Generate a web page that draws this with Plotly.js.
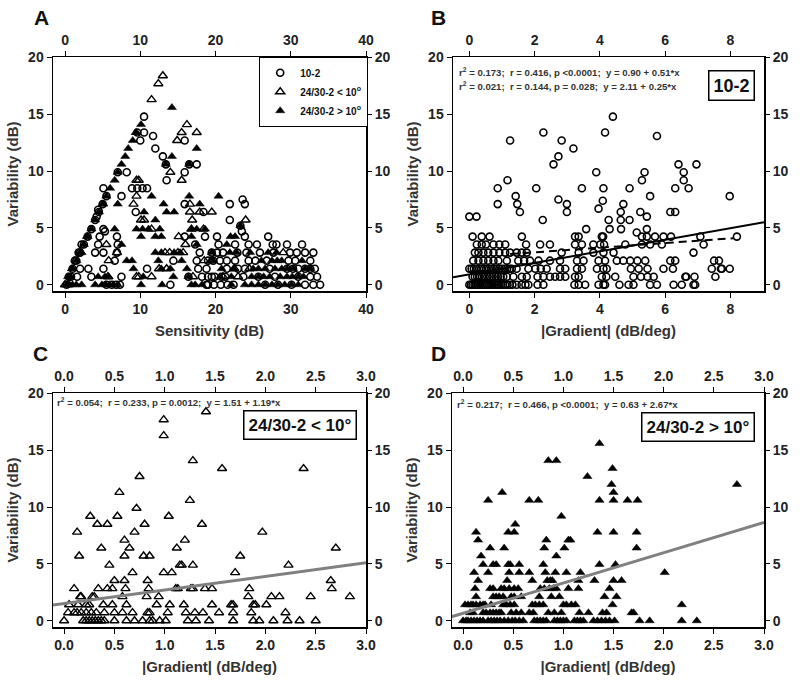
<!DOCTYPE html>
<html>
<head>
<meta charset="utf-8">
<script src="https://cdn.plot.ly/plotly-3.0.1.min.js"></script>
<style>html,body{margin:0;padding:0;background:#fff}#chart{width:800px;height:687px}</style>
</head>
<body>
<div id="chart"></div>
<script>
// variability steps (dB) of the dense bottom rows, one row of x values per step
var levels = [0, 0.71, 1.41, 2.12, 2.83, 3.54, 4.24];

// A: sensitivity (dB) vs variability (dB)
var aCircRows = [
  [0.2, 5.5, 6.2, 6.8, 7.3, 14.0, 18.8, 19.0, 19.8, 20.7, 21.6, 22.4, 26.6, 28.3, 30.1, 31.9, 33.0, 33.9],
  [0.5, 0.8, 1.6, 3.5, 7.5, 16.4, 18.2, 19.0, 19.5, 19.9, 20.8, 21.3, 23.7, 25.7, 27.9, 31.0, 32.6, 33.5],
  [1.0, 2.0, 3.1, 5.1, 10.9, 17.7, 18.8, 21.5, 23.0, 23.9, 27.2, 29.5, 30.3, 31.0, 31.9, 32.6, 33.2],
  [1.3, 1.5, 6.6, 14.4, 17.5, 19.0, 19.7, 20.6, 21.5, 22.6, 24.4, 25.3, 26.8, 29.7, 30.6, 32.6],
  [1.8, 2.0, 4.0, 5.1, 6.9, 17.9, 19.5, 20.2, 21.0, 22.9, 24.1, 25.9, 27.7, 29.9, 30.8, 31.9, 33.0],
  [2.2, 2.5, 4.4, 7.0, 17.3, 20.4, 22.6, 24.4, 25.5, 27.6, 28.1, 29.5, 31.5],
  [3.0, 4.6, 6.9, 15.9, 18.6, 20.2, 23.9, 27.0]
];
var aCircUpper = [[3.5,4.9],[5.1,4.9],[5.3,4.7],[4.0,5.7],[4.2,6.0],[4.4,6.6],[4.5,6.4],[5.0,7.1],[5.5,7.8],[5.1,8.5],
  [7.0,9.9],[7.5,7.8],[8.9,8.5],[9.6,8.5],[10.3,8.5],[10.9,8.5],[9.4,6.4],[8.2,9.9],[9.6,13.4],[10.0,12.7],[10.5,13.4],
  [10.5,14.8],[11.7,13.1],[12.0,12.0],[13.0,11.3],[13.4,10.6],[13.5,9.2],[15.9,9.9],[15.9,12.7],[16.5,10.6],[17.5,10.6],
  [15.9,7.1],[18.4,6.4],[21.9,7.1],[23.6,7.5],[23.9,7.1],[21.9,5.7],[23.3,5.2],[23.5,4.7]];

var aOpenRows = [
  [0.0, 0.4],
  [5.7, 9.5, 9.8, 11.5, 17.0, 21.0, 23.0],
  [12.5, 13.5, 22.5, 24.5],
  [5.8, 18.5],
  [6.9, 13.3, 13.9, 15.0, 15.7, 29.0],
  [5.5, 16.0],
  [15.1]
];
var aOpenUpper = [[10.5,5.7],[10.1,5.7],[11.5,4.9],[16.8,4.9],[18.4,4.9],[16.9,5.7],[24.0,5.7],[16.6,6.4],[19.5,6.4],
  [17.9,6.4],[16.6,7.1],[9.1,7.1],[9.5,7.8],[9.5,9.2],[15.5,9.2],[14.0,9.9],[14.9,12.7],[15.5,13.4],[17.5,13.4],
  [16.2,14.1],[11.5,16.3],[12.4,17.7],[13.0,18.4],[9.8,9.2]];

var aFillRows = [
  [0.2, 0.6, 1.0, 1.5, 2.2, 4.0, 4.9, 5.4, 5.9, 6.4, 7.0, 10.1, 12.9, 16.8, 17.3, 18.2, 22.1, 23.9, 24.8, 25.7, 26.6, 27.5, 28.3, 29.2, 30.1, 31.0],
  [0.4, 0.7, 4.4, 5.3, 5.8, 10.4, 14.4, 16.4, 20.6, 22.1, 24.8, 25.7, 26.4, 27.2, 28.6, 29.5, 30.2, 31.0, 31.7],
  [0.9, 1.0, 9.1, 12.8, 14.0, 16.2, 20.8, 22.4, 25.0, 25.7, 26.6, 27.9, 28.8, 29.5, 30.3, 31.9, 32.6],
  [1.5, 8.2, 8.9, 12.4, 15.5, 19.3, 19.7, 26.1, 27.5, 28.2, 28.8, 31.5],
  [2.0, 2.2, 12.0, 12.8, 14.5, 15.3, 19.5, 21.9, 22.8, 24.6, 27.0, 28.1],
  [2.5, 7.5, 17.5, 21.5],
  [2.9, 3.0, 10.1, 12.0, 12.8, 16.8, 22.0, 22.6]
];
var aFillUpper = [[3.5,4.9],[6.6,4.9],[9.5,4.9],[10.3,4.9],[11.1,4.9],[12.6,4.9],[16.8,4.9],[17.5,4.9],[18.6,4.9],
  [23.3,5.2],[12.0,5.7],[4.0,5.7],[4.5,6.4],[10.5,6.4],[13.5,6.4],[14.5,6.4],[5.0,7.1],[5.1,7.1],[7.0,7.1],[13.1,7.1],
  [17.9,7.1],[5.5,7.8],[11.5,7.8],[16.5,7.8],[20.4,7.8],[6.0,8.5],[6.6,9.2],[7.0,9.9],[7.5,10.6],[8.0,11.3],[8.4,12.0],
  [9.0,12.7],[9.4,13.4],[9.5,13.4],[10.1,14.1],[14.2,15.6],[14.2,11.3],[13.4,10.6],[16.5,10.6],[17.5,12.0]];

// B: 10-2, |gradient| vs variability
var bRows = [
  [0.0, 0.05, 0.1, 0.16, 0.21, 0.27, 0.33, 0.38, 0.44, 0.5, 0.55, 0.61, 0.67, 0.72, 0.78, 0.85, 0.9, 0.97, 1.03, 1.1, 1.17, 1.24, 1.32, 1.45, 1.6, 1.72, 1.81, 2.09, 2.27, 3.22, 3.35, 3.55, 3.96, 4.11, 4.16, 4.6, 4.88, 5.03, 5.54, 5.75, 6.26, 6.51, 6.87, 6.92],
  [0.1, 0.17, 0.24, 0.31, 0.39, 0.47, 0.55, 0.63, 0.71, 0.8, 0.88, 0.96, 1.04, 1.15, 1.35, 1.61, 1.76, 2.09, 2.27, 2.47, 2.63, 2.78, 2.94, 3.24, 3.35, 4.06, 4.2, 4.47, 5.03, 5.26, 5.46, 5.65, 6.62, 6.65, 6.9, 7.54],
  [0.0, 0.07, 0.14, 0.22, 0.3, 0.37, 0.45, 0.52, 0.6, 0.68, 0.76, 0.84, 0.92, 1.0, 1.08, 1.16, 1.24, 1.3, 1.45, 1.81, 2.02, 2.19, 2.37, 2.78, 2.94, 3.3, 3.45, 3.91, 4.11, 4.21, 4.95, 5.19, 5.46, 5.95, 6.24, 7.43, 7.71, 7.74, 7.98],
  [0.12, 0.28, 0.43, 0.58, 0.74, 0.89, 1.15, 1.5, 1.68, 1.86, 2.12, 2.47, 2.78, 3.3, 3.5, 3.96, 4.16, 4.52, 4.72, 4.93, 5.15, 5.39, 6.16, 6.31, 7.5, 7.65],
  [0.17, 0.28, 0.43, 0.58, 0.74, 0.92, 1.1, 1.25, 1.45, 1.61, 1.76, 2.83, 3.35, 3.8, 4.11, 4.42, 6.87],
  [0.23, 0.38, 0.51, 0.74, 0.92, 1.1, 1.74, 2.17, 2.47, 3.24, 3.45, 3.8, 4.01, 4.13, 4.78, 5.29, 5.54, 5.9, 7.18],
  [0.1, 0.38, 0.62, 1.61, 3.24, 3.35, 4.06, 4.1, 5.29, 5.44, 5.69, 5.95, 6.18, 7.08, 8.2]
];
var bUpper = [[0,6.0],[0.22,6.0],[0.87,8.5],[1.17,9.2],[0.87,7.1],[1.25,12.7],[1.42,7.8],[1.47,7.1],[1.55,6.4],[2.05,8.5],
  [2.25,5.7],[2.27,13.4],[2.83,12.7],[2.73,11.3],[2.58,10.6],[3.19,12.0],[2.73,7.5],[2.99,7.1],[2.99,6.4],[3.45,8.5],
  [3.58,4.9],[3.89,9.9],[3.96,6.7],[4.09,7.4],[4.11,8.5],[4.16,13.4],[4.4,14.8],[4.27,5.7],[4.3,4.9],[4.65,4.9],
  [4.72,7.1],[4.64,6.4],[4.64,5.7],[4.91,8.5],[4.91,5.7],[5.29,9.2],[5.37,9.9],[5.24,6.4],[5.44,6.0],[5.54,7.8],
  [5.44,4.9],[5.13,4.6],[5.75,13.1],[6.16,6.4],[6.31,6.4],[6.31,8.5],[6.41,10.6],[6.57,9.9],[6.57,9.2],[6.72,8.5],
  [6.96,10.6],[7.98,7.8]];
var bFitAllX = [-0.5, 9.03], bFitAllY = [0.65, 5.5];
var bFitX = [1.25, 8.1], bFitY = [2.7, 4.1];

// C: 24/30-2 < 10 deg
var cRows = [
  [0.0, 0.19, 0.22, 0.25, 0.28, 0.31, 0.34, 0.37, 0.4, 0.5, 0.62, 0.7, 0.78, 0.85, 0.88, 0.95, 1.01, 1.23, 1.31, 1.44, 1.68, 1.88, 1.94, 2.08, 2.22, 2.34, 2.5],
  [0.04, 0.1, 0.13, 0.17, 0.22, 0.27, 0.32, 0.4, 0.5, 0.58, 0.68, 0.83, 0.85, 1.03, 1.21, 1.3, 1.38, 1.54, 1.68, 1.86, 2.2],
  [0.05, 0.14, 0.22, 0.25, 0.39, 0.48, 0.62, 0.92, 1.05, 1.19, 1.47, 1.66, 1.68, 1.88, 1.9, 2.01],
  [0.16, 0.17, 0.28, 0.3, 0.58, 0.82, 0.94, 1.83, 2.06, 2.14, 2.45, 2.84],
  [0.1, 0.34, 0.43, 0.48, 0.61, 0.84, 1.11, 1.13, 1.26, 1.28, 1.4, 1.47, 1.84, 2.66],
  [0.5, 0.6, 0.83, 2.65],
  [0.68, 0.99, 1.07, 1.7]
];
var cUpper = [[1.41,18.4],[0.99,17.7],[0.99,16.3],[1.28,14.1],[1.57,13.4],[2.38,13.4],[0.75,12.7],[0.55,11.3],[1.25,10.6],
  [0.26,9.2],[0.53,9.2],[0.72,9.9],[1.04,9.2],[0.33,8.5],[0.43,8.5],[0.8,8.5],[1.37,8.5],[0.13,7.8],[0.7,7.8],[1.97,7.8],
  [0.6,7.1],[1.2,7.1],[0.37,6.4],[0.65,6.4],[1.12,6.4],[2.7,6.4],[0.15,5.7],[0.6,5.7],[0.79,5.7],[0.85,5.7],[1.75,5.7],
  [0.45,4.9],[1.15,4.9],[1.17,4.9],[1.28,4.9],[2.23,4.9]];
var cFitX = [-0.11, 3.0], cFitY = [1.38, 5.1];

// D: 24/30-2 > 10 deg
var dRows = [
  [0, 0.03, 0.05, 0.08, 0.11, 0.14, 0.17, 0.2, 0.25, 0.28, 0.31, 0.34, 0.37, 0.41, 0.45, 0.49, 0.52, 0.56, 0.6, 0.71, 0.74, 0.77, 0.8, 0.83, 0.91, 0.94, 0.97, 1.0, 1.03, 1.11, 1.14, 1.17, 1.2, 1.3, 1.34, 1.38, 1.42, 1.46, 1.51, 1.76, 1.86, 2.18, 2.33],
  [0.07, 0.1, 0.2, 0.23, 0.27, 0.3, 0.33, 0.36, 0.38, 0.48, 0.53, 0.58, 0.66, 0.7, 0.85, 0.91, 0.98, 1.16, 1.25, 1.39, 1.43, 1.68, 1.7],
  [0.02, 0.05, 0.08, 0.1, 0.13, 0.17, 0.2, 0.22, 0.28, 0.4, 0.43, 0.47, 0.51, 0.69, 0.72, 0.76, 0.8, 1.0, 1.03, 1.08, 1.12, 1.49, 2.18],
  [0.13, 0.3, 0.33, 0.36, 0.4, 0.48, 0.51, 0.58, 0.76, 0.88, 0.96, 1.41, 1.53],
  [0.12, 0.27, 0.3, 0.38, 0.41, 0.46, 0.51, 0.55, 0.77, 0.81, 0.86, 0.9, 0.93, 1.05, 1.15, 1.46],
  [0.15, 0.44, 0.69, 0.84, 0.87, 0.89, 1.15, 1.31, 1.5, 1.58],
  [0.11, 0.25, 0.46, 0.56, 0.66, 0.82, 0.92, 1.03, 1.17, 2.01]
];
var dUpper = [[0.2,4.95],[0.3,4.95],[0.33,4.95],[0.45,4.95],[0.47,4.95],[0.56,4.95],[0.8,4.95],[1.36,4.95],[1.52,4.95],
  [1.36,15.6],[0.85,14.1],[0.93,14.1],[1.49,13.4],[1.24,12.7],[1.48,12.0],[2.73,12.0],[1.5,11.3],[0.39,11.3],[0.25,10.6],
  [0.66,10.6],[0.75,10.6],[1.36,10.6],[1.5,10.6],[1.64,10.6],[1.74,10.6],[0.98,9.2],[0.52,8.5],[0.13,7.8],[0.45,7.8],
  [0.51,7.8],[1.34,7.8],[1.5,7.8],[1.73,7.8],[0.15,7.1],[0.83,7.1],[1.05,7.1],[1.07,7.1],[0.27,6.4],[0.41,6.4],
  [0.81,6.4],[1.01,6.4],[1.73,6.4],[0.18,5.7],[0.93,5.7]];
var dFitX = [-0.115, 3.0], dFitY = [0.35, 8.65];

// rows + upper pairs -> x/y lists
function pts(rows, upper) {
  var x = [], y = [];
  rows.forEach(function (r, i) { r.forEach(function (v) { x.push(v); y.push(levels[i]); }); });
  upper.forEach(function (p) { x.push(p[0]); y.push(p[1]); });
  return {x: x, y: y};
}

var F = '"Liberation Sans", Arial, sans-serif';
var W = 800, H = 687;
function px(v) { return v / W; }
function py(v) { return 1 - v / H; }

var circ = {symbol: 'circle-open', size: 7, color: '#000', line: {width: 1.6, color: '#000'}};
var tOpen = {symbol: 'triangle-up-open', size: 8, color: '#000', line: {width: 1.4, color: '#000'}};
var tFill = {symbol: 'triangle-up', size: 8, color: '#000', line: {width: 0.5, color: '#000'}};

function scat(p, marker, xa, ya, name, leg) {
  return {x: p.x, y: p.y, type: 'scatter', mode: 'markers', marker: marker, xaxis: xa, yaxis: ya,
    name: name, showlegend: !!leg, hoverinfo: 'skip'};
}
function line(x, y, xa, ya, color, width, dash) {
  return {x: x, y: y, type: 'scatter', mode: 'lines', line: {color: color, width: width, dash: dash || 'solid'},
    xaxis: xa, yaxis: ya, showlegend: false, hoverinfo: 'skip'};
}
// empty trace so the top / right tick axes get drawn
function holder(xa, ya) {
  return {x: [], y: [], type: 'scatter', mode: 'markers', xaxis: xa, yaxis: ya, showlegend: false, hoverinfo: 'skip'};
}

var aC = pts(aCircRows, aCircUpper), aO = pts(aOpenRows, aOpenUpper), aF = pts(aFillRows, aFillUpper);
var data = [
  scat(aC, circ, 'x', 'y', '10-2', true),
  scat(aO, tOpen, 'x', 'y', '24/30-2 < 10<sup>o</sup>', true),
  scat(aF, tFill, 'x', 'y', '24/30-2 > 10<sup>o</sup>', true),
  scat(pts(bRows, bUpper), circ, 'x2', 'y2'),
  line(bFitAllX, bFitAllY, 'x2', 'y2', '#000', 2),
  line(bFitX, bFitY, 'x2', 'y2', '#000', 2, '8px,5px'),
  scat(pts(cRows, cUpper), tOpen, 'x3', 'y3'),
  line(cFitX, cFitY, 'x3', 'y3', '#808080', 3),
  scat(pts(dRows, dUpper), tFill, 'x4', 'y4'),
  line(dFitX, dFitY, 'x4', 'y4', '#808080', 3),
  holder('x5', 'y'), holder('x', 'y5'),
  holder('x6', 'y2'), holder('x2', 'y6'),
  holder('x7', 'y3'), holder('x3', 'y7'),
  holder('x8', 'y4'), holder('x4', 'y8')
];

var tickFont = {family: F, size: 14, color: '#222', weight: 'bold'};
var titleFont = {family: F, size: 15, color: '#333', weight: 'bold'};
var yRange = [-0.55, 20.05], yTicks = [0, 5, 10, 15, 20];

function xAxis(x0, x1, anchor, range, ticks, fmt) {
  return {domain: [px(x0), px(x1)], anchor: anchor, range: range, tickvals: ticks, tickformat: fmt,
    ticks: 'outside', ticklen: 5, tickcolor: '#000', showline: true, linecolor: '#000', linewidth: 1.5,
    mirror: true, showgrid: false, zeroline: false, tickfont: tickFont, fixedrange: true,
    title: {text: anchor === 'y' ? 'Sensitivity (dB)' : '|Gradient| (dB/deg)', font: titleFont, standoff: 9}};
}
function yAxis(y0, y1, anchor) {
  return {domain: [py(y1), py(y0)], anchor: anchor, range: yRange, tickvals: yTicks,
    ticks: 'outside', ticklen: 5, tickcolor: '#000', showline: true, linecolor: '#000', linewidth: 1.5,
    mirror: true, showgrid: false, zeroline: false, tickfont: tickFont, fixedrange: true,
    title: {text: 'Variability (dB)', font: titleFont, standoff: 6}};
}
function topAxis(over, anchor, range, ticks, fmt) {
  return {overlaying: over, side: 'top', anchor: anchor, range: range, tickvals: ticks, tickformat: fmt,
    ticks: 'outside', ticklen: 5, tickcolor: '#000', showline: false, showgrid: false, zeroline: false,
    tickfont: tickFont, fixedrange: true};
}
function rightAxis(over, anchor) {
  return {overlaying: over, side: 'right', anchor: anchor, range: yRange, tickvals: yTicks,
    ticks: 'outside', ticklen: 5, tickcolor: '#000', showline: false, showgrid: false, zeroline: false,
    tickfont: tickFont, fixedrange: true};
}

var aRange = [-1.6, 40], aTicks = [0, 10, 20, 30, 40];
var bRange = [-0.5, 9.03], bTicks = [0, 2, 4, 6, 8];
var gRange = [-0.11, 3.0], gTicks = [0, 0.5, 1, 1.5, 2, 2.5, 3];

function note(text, x, y, size, opts) {
  var a = {text: text, x: px(x), y: py(y), xref: 'paper', yref: 'paper', showarrow: false,
    xanchor: 'center', yanchor: 'middle', font: {family: F, size: size, color: '#111', weight: 'bold'}};
  for (var k in opts || {}) a[k] = opts[k];
  return a;
}
var sp = '&nbsp;&nbsp;';
var statOpts = {xanchor: 'left', font: {family: F, size: 9.6, color: '#333', weight: 'bold'}};
var boxOpts = {bordercolor: '#000', borderwidth: 1.5, borderpad: 4, bgcolor: '#fff'};

var layout = {
  width: W, height: H, margin: {l: 0, r: 0, t: 0, b: 0},
  paper_bgcolor: '#fff', plot_bgcolor: '#fff',
  xaxis: xAxis(53, 366, 'y', aRange, aTicks), yaxis: yAxis(57, 291, 'x'),
  xaxis2: xAxis(453, 764, 'y2', bRange, bTicks), yaxis2: yAxis(57, 291, 'x2'),
  xaxis3: xAxis(53, 366, 'y3', gRange, gTicks, '.1f'), yaxis3: yAxis(393, 627, 'x3'),
  xaxis4: xAxis(452, 764, 'y4', gRange, gTicks, '.1f'), yaxis4: yAxis(393, 627, 'x4'),
  xaxis5: topAxis('x', 'y', aRange, aTicks), yaxis5: rightAxis('y', 'x'),
  xaxis6: topAxis('x2', 'y2', bRange, bTicks), yaxis6: rightAxis('y2', 'x2'),
  xaxis7: topAxis('x3', 'y3', gRange, gTicks, '.1f'), yaxis7: rightAxis('y3', 'x3'),
  xaxis8: topAxis('x4', 'y4', gRange, gTicks, '.1f'), yaxis8: rightAxis('y4', 'x4'),
  showlegend: true,
  legend: {x: px(259), y: py(57), xanchor: 'left', yanchor: 'top', bgcolor: '#fff',
    bordercolor: '#000', borderwidth: 1.2, itemwidth: 30, tracegroupgap: 0,
    font: {family: F, size: 10, color: '#111', weight: 'bold'}},
  annotations: [
    note('A', 41, 17, 21), note('B', 438, 17, 21), note('C', 40, 353, 21), note('D', 438, 353, 21),
    note('r<sup>2</sup> = 0.173;' + sp + 'r = 0.416, p &lt;0.0001;' + sp + 'y = 0.90 + 0.51*x', 457, 72, 9.6, statOpts),
    note('r<sup>2</sup> = 0.021;' + sp + 'r = 0.144, p = 0.028;' + sp + 'y = 2.11 + 0.25*x', 457, 86, 9.6, statOpts),
    note('r<sup>2</sup> = 0.054;' + sp + 'r = 0.233, p = 0.0012;' + sp + 'y = 1.51 + 1.19*x', 55, 402, 9.6, statOpts),
    note('r<sup>2</sup> = 0.217;' + sp + 'r = 0.466, p &lt;0.0001;' + sp + 'y = 0.63 + 2.67*x', 455, 404, 9.6, statOpts),
    note('10-2', 731, 85, 18, boxOpts),
    note('24/30-2 &lt; 10°', 300, 425, 17, boxOpts),
    note('24/30-2 &gt; 10°', 698, 427, 17, boxOpts)
  ]
};

Plotly.newPlot('chart', data, layout, {displayModeBar: false, staticPlot: true});
</script>
</body>
</html>
